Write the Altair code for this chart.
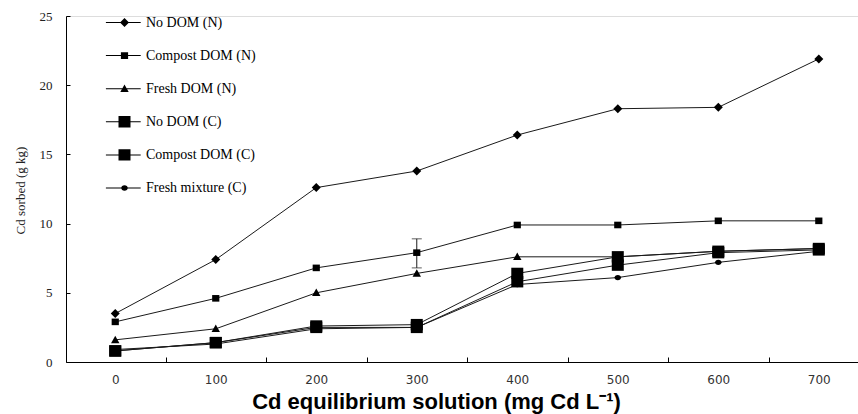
import altair as alt
import pandas as pd

# ---------------- data ----------------
x_vals = [0, 100, 200, 300, 400, 500, 600, 700]
series_names = ["No DOM (N)", "Compost DOM (N)", "Fresh DOM (N)",
                "No DOM (C)", "Compost DOM (C)", "Fresh mixture (C)"]
no_dom_n = [3.5, 7.4, 12.6, 13.8, 16.4, 18.3, 18.4, 21.9]
compost_dom_n = [2.9, 4.6, 6.8, 7.9, 9.9, 9.9, 10.2, 10.2]
fresh_dom_n = [1.6, 2.4, 5.0, 6.4, 7.6, 7.6, 8.0, 8.2]
no_dom_c = [0.8, 1.4, 2.6, 2.7, 6.4, 7.6, 8.0, 8.2]
compost_dom_c = [0.8, 1.4, 2.5, 2.5, 5.8, 7.0, 7.9, 8.1]
fresh_mixture_c = [0.9, 1.3, 2.4, 2.5, 5.6, 6.1, 7.2, 8.0]
err_x = [300]
err_low = [6.8]
err_high = [8.9]
y_ticks = [0, 5, 10, 15, 20, 25]
x_between_ticks = [50, 150, 250, 350, 450, 550, 650]

all_series = [no_dom_n, compost_dom_n, fresh_dom_n, no_dom_c, compost_dom_c, fresh_mixture_c]
rows = []
for name, vals in zip(series_names, all_series):
    for xv, yv in zip(x_vals, vals):
        rows.append({"x": xv, "y": yv, "series": name})
df = pd.DataFrame(rows)
err_df = pd.DataFrame({"x": err_x, "lo": err_low, "hi": err_high})

# marker shapes (unit paths)
diamond = "M0,-0.75L0.75,0L0,0.75L-0.75,0Z"
small_sq = "M-0.6,-0.55H0.6V0.55H-0.6Z"
triangle = "M0,-0.7L0.7,0.55H-0.7Z"
big_sq = "M-1,-0.95H1V0.95H-1Z"
circle = "M0.55,0A0.55,0.45 0 1,1 -0.55,0A0.55,0.45 0 1,1 0.55,0Z"
marker_paths = [diamond, small_sq, triangle, big_sq, big_sq, circle]
seg = "M-3.1,-0.08H2.7V0.08H-3.1Z"
legend_paths = [seg + p for p in marker_paths]

xscale = alt.Scale(domain=[-49, 739], nice=False, zero=False)
yscale = alt.Scale(domain=[0, 25], nice=False)

line_color = "#1a1a1a"

lines = alt.Chart(df).mark_line(color=line_color, strokeWidth=1).encode(
    x=alt.X("x:Q", scale=xscale, axis=alt.Axis(
        values=x_vals, tickSize=0, ticks=False, grid=False,
        labelFont="DejaVu Sans", labelFontSize=12, labelColor="#333333",
        labelPadding=12, domainColor="#000000", domainWidth=1,
        title="Cd equilibrium solution (mg Cd L\u207b\u00b9)",
        titleFont="Liberation Sans", titleFontWeight="bold", titleFontSize=22,
        titleColor="#000000", titleX=370, titleY=46, titleBaseline="alphabetic",
        titleAlign="center", orient="bottom")),
    y=alt.Y("y:Q", scale=yscale, axis=alt.Axis(
        values=y_ticks, tickSize=0, ticks=False, grid=False,
        labelFont="Liberation Serif", labelFontSize=13, labelColor="#222222",
        labelPadding=14, domainColor="#000000", domainWidth=1,
        title="Cd sorbed (g kg)", titleFont="Liberation Serif", titleFontSize=13,
        titleFontWeight="normal", titleColor="#222222", titleAngle=270,
        titleX=-46, titleY=174, titleBaseline="middle", titleAlign="center",
        orient="left")),
    detail="series:N",
)

err_rule = alt.Chart(err_df).mark_rule(color=line_color, strokeWidth=1).encode(
    x=alt.X("x:Q", scale=xscale, axis=None),
    y=alt.Y("lo:Q", scale=yscale, axis=None),
    y2="hi:Q",
)
err_lo = alt.Chart(err_df).mark_tick(color=line_color, orient="horizontal", size=10, thickness=1).encode(
    x=alt.X("x:Q", scale=xscale, axis=None),
    y=alt.Y("lo:Q", scale=yscale, axis=None),
)
err_hi = alt.Chart(err_df).mark_tick(color=line_color, orient="horizontal", size=10, thickness=1).encode(
    x=alt.X("x:Q", scale=xscale, axis=None),
    y=alt.Y("hi:Q", scale=yscale, axis=None),
)

points = alt.Chart(df).mark_point(filled=True, color="#000000", opacity=1, size=144).encode(
    x=alt.X("x:Q", scale=xscale, axis=alt.Axis(
        values=x_between_ticks, orient="bottom", offset=-5, tickSize=5,
        tickColor="#000000", domain=False, labels=False, grid=False, title=None)),
    y=alt.Y("y:Q", scale=yscale, axis=alt.Axis(
        values=y_ticks, orient="left", offset=-4, tickSize=4,
        tickColor="#000000", domain=False, labels=False, grid=False, title=None)),
    shape=alt.Shape("series:N", scale=alt.Scale(domain=series_names, range=marker_paths), legend=None),
)

legend_layer = alt.Chart(df).mark_point(filled=True, color="#000000", opacity=0, size=144).encode(
    x=alt.X("x:Q", scale=xscale, axis=None),
    y=alt.Y("y:Q", scale=yscale, axis=None),
    shape=alt.Shape("series:N", scale=alt.Scale(domain=series_names, range=legend_paths),
                    legend=alt.Legend(
                        title=None, orient="none", legendX=51.5, legendY=-0.5,
                        padding=0, symbolSize=144, symbolOpacity=1,
                        symbolFillColor="#000000", symbolStrokeColor="#000000",
                        symbolStrokeWidth=0, labelFont="Liberation Serif",
                        labelFontSize=14, labelColor="#000000", labelOffset=14.5,
                        rowPadding=19.1, symbolOffset=0, labelLimit=300)),
)

chart = alt.layer(lines, err_rule, err_lo, err_hi, points, legend_layer).resolve_scale(
    shape="independent"
).resolve_axis(
    x="independent", y="independent"
).resolve_legend(shape="independent").properties(
    width=792, height=346,
    autosize=alt.AutoSizeParams(type="none"),
    padding={"left": 66, "top": 16, "right": 0, "bottom": 52},
).configure_view(stroke=None).configure(background="white")

chart.save("out.html", embed_options={"renderer": "svg", "actions": False})
